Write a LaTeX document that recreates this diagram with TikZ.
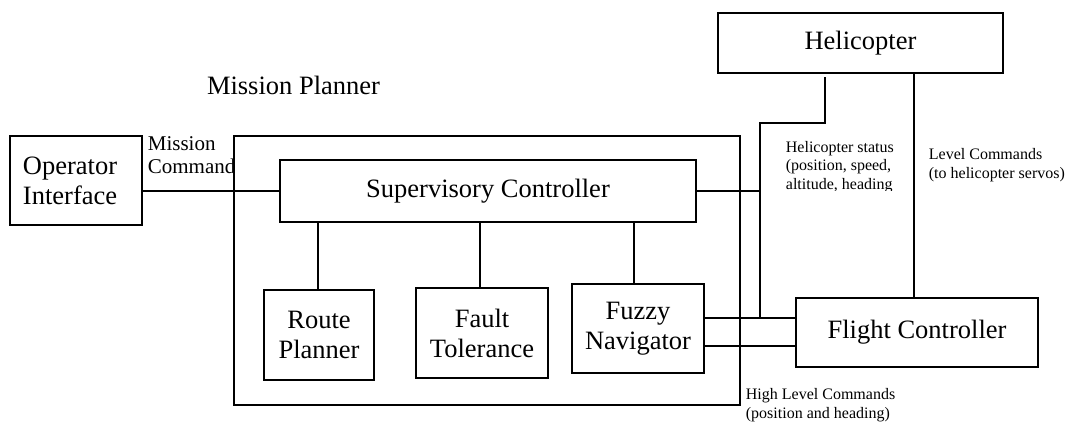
\documentclass[tikz,border=0pt]{standalone}
\usepackage{fontspec}
\setmainfont{Liberation Serif}
\begin{document}
\begin{tikzpicture}[x=1pt,y=-1pt,line width=1.8pt,
  blk/.style={draw,rectangle,inner sep=0pt,align=center,
    font=\fontsize{26.5}{30}\selectfont},
  note/.style={inner sep=0pt,anchor=west,align=left,
    font=\fontsize{16}{18.5}\selectfont},
  wire/.style={draw}]
\useasboundingbox (0,0) rectangle (1068,423);

% caption above the planner
\node[inner sep=0pt,font=\fontsize{26.5}{30}\selectfont] (mptitle) at (293.5,85) {Mission Planner};

% label of the operator link, cut off by the planner frame
\begin{scope}
  \clip (0,0) rectangle (234,423);
  \node[note,font=\fontsize{21}{23}\selectfont] (mcmd) at (147,155.5) {Mission\\Command};
\end{scope}

% blocks
\node[blk,align=left,text width=106pt,inner xsep=13pt,minimum height=89pt] (op) at (76,180.5) {Operator\\Interface};
\node[draw,rectangle,minimum width=506pt,minimum height=269pt,inner sep=0pt] (mp) at (487,270.5) {};
\node[blk,minimum width=416pt,minimum height=62pt] (sup) at (488,191) {Supervisory Controller};
\node[blk,minimum width=110pt,minimum height=90pt] (route) at (319,335) {Route\\Planner};
\node[blk,minimum width=132pt,minimum height=90pt] (fault) at (482,333) {Fault\\Tolerance};
\node[blk,minimum width=132pt,minimum height=89pt] (fuzzy) at (638,328.5) {Fuzzy\\Navigator};
\node[blk,minimum width=285pt,minimum height=60pt] (heli) at (860.5,43) {Helicopter};
\node[blk,minimum width=242pt,minimum height=69pt] (flight) at (917,332.5) {Flight Controller};

% bends of the status line
\coordinate (kA) at (825,123);
\coordinate (kB) at (760,123);
\coordinate (kC) at (760,318);
\coordinate (kD) at (760,346);
\coordinate (hs) at (825,77);
\coordinate (lc) at (914,73);

% connectors
\draw (op.east |- sup.west) -- (sup.west);
\draw ([xshift=-1pt]route.north) -- ([xshift=-1pt]route.north |- sup.south);
\draw ([xshift=-2pt]fault.north) -- ([xshift=-2pt]fault.north |- sup.south);
\draw ([xshift=-4pt]fuzzy.north) -- ([xshift=-4pt]fuzzy.north |- sup.south);
\draw (sup.east) -- (sup.east -| kB);
\draw (hs) -- (kA) -- (kB) -- (kC);
\draw (fuzzy.east |- kC) -- (flight.west |- kC);
\draw (fuzzy.east |- kD) -- (flight.west |- kD);
\draw (lc) -- (lc |- flight.north);

% line labels
\begin{scope}
  \clip (770,130) rectangle (905,190);
  \node[note] (hstat) at (785,167) {Helicopter status\\(position, speed,\\altitude, heading};
\end{scope}
\node[note] (llc) at (928,165) {Level Commands\\(to helicopter servos)};
\node[note] (hlc) at (745,405) {High Level Commands\\(position and heading)};
\end{tikzpicture}
\end{document}
